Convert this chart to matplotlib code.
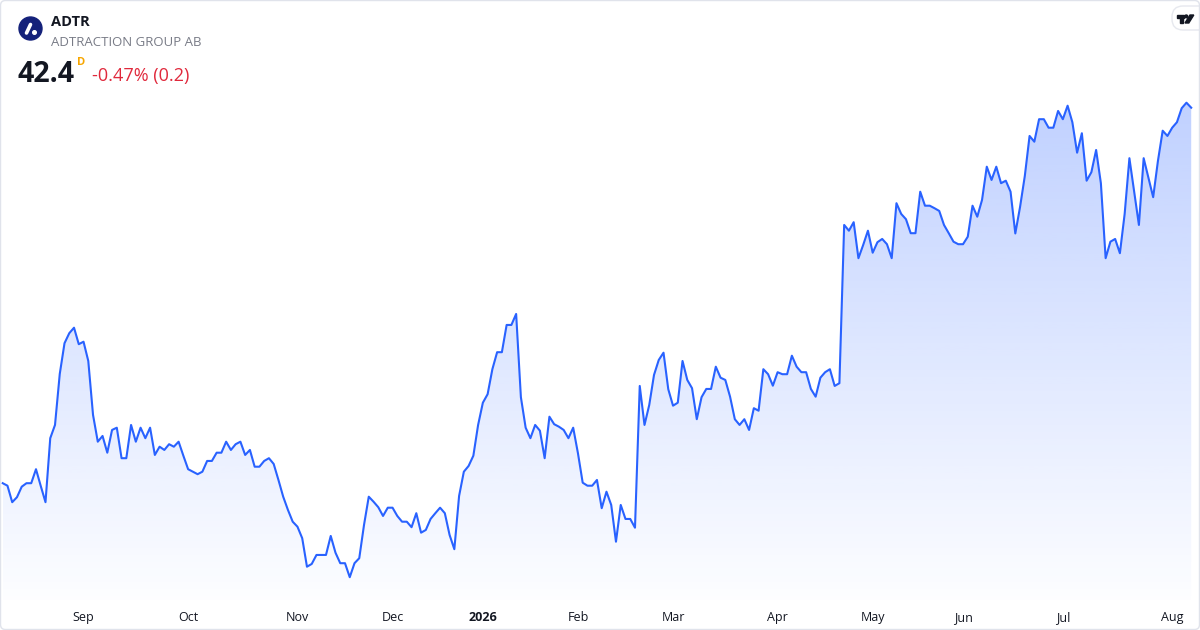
import numpy as np
import pandas as pd
import matplotlib
matplotlib.use("Agg")
import matplotlib.pyplot as plt
from matplotlib.patches import FancyBboxPatch, Circle, Polygon

plt.rcParams["font.family"] = ["Open Sans", "DejaVu Sans"]

# daily closes, ADTR (Stockholm), Aug 2025 - Aug 2026
prices = [
    27.38, 27.28, 26.62, 26.82, 27.24, 27.38, 27.38, 27.94, 27.27, 26.62,
    29.18, 29.71, 31.75, 32.98, 33.38, 33.60, 32.94, 33.04, 32.27, 30.11,
    29.04, 29.27, 28.60, 29.51, 29.60, 28.38, 28.38, 29.71, 29.04, 29.60,
    29.18, 29.60, 28.51, 28.84, 28.71, 28.94, 28.84, 29.04, 28.48, 27.94,
    27.84, 27.74, 27.84, 28.27, 28.27, 28.60, 28.60, 29.04, 28.71, 28.94,
    29.04, 28.51, 28.71, 28.04, 28.04, 28.27, 28.38, 28.15, 27.51, 26.84,
    26.31, 25.84, 25.64, 25.18, 24.04, 24.15, 24.51, 24.51, 24.51, 25.27,
    24.60, 24.18, 24.18, 23.62, 24.18, 24.38, 25.71, 26.84, 26.64, 26.42,
    26.07, 26.40, 26.40, 26.07, 25.84, 25.84, 25.62, 26.18, 25.40, 25.51,
    25.95, 26.18, 26.40, 26.18, 25.31, 24.74, 26.87, 27.84, 28.07, 28.48,
    29.71, 30.60, 30.94, 31.94, 32.62, 32.62, 33.71, 33.71, 34.15, 30.82,
    29.60, 29.18, 29.71, 29.48, 28.38, 30.04, 29.74, 29.64, 29.51, 29.18,
    29.60, 28.58, 27.40, 27.28, 27.28, 27.51, 26.38, 27.04, 26.51, 25.04,
    26.51, 25.95, 25.95, 25.60, 31.27, 29.71, 30.51, 31.71, 32.31, 32.60,
    31.14, 30.48, 30.60, 32.27, 31.51, 31.18, 29.94, 30.82, 31.15, 31.15,
    32.04, 31.60, 31.51, 30.84, 29.94, 29.71, 29.94, 29.51, 30.38, 30.28,
    31.94, 31.74, 31.28, 31.82, 31.74, 31.74, 32.48, 32.04, 31.82, 31.82,
    31.15, 30.84, 31.60, 31.82, 31.94, 31.27, 31.38, 37.71, 37.48, 37.82,
    36.38, 36.91, 37.48, 36.60, 37.02, 37.15, 36.94, 36.38, 38.58, 38.15,
    37.94, 37.38, 37.38, 39.04, 38.48, 38.48, 38.38, 38.27, 37.71, 37.38,
    37.04, 36.94, 36.94, 37.24, 38.48, 38.04, 38.71, 40.04, 39.51, 40.04,
    39.38, 39.48, 39.04, 37.37, 38.43, 39.67, 41.27, 41.04, 41.94, 41.94,
    41.60, 41.60, 42.27, 41.94, 42.48, 41.82, 40.60, 41.38, 39.48, 39.82,
    40.71, 39.38, 36.38, 37.04, 37.15, 36.58, 38.15, 40.38, 39.04, 37.71,
    40.38, 39.60, 38.82, 40.27, 41.48, 41.27, 41.60, 41.82, 42.38, 42.60,
    42.40,
]

# Nasdaq Stockholm closing days in the window
holidays = ["2025-12-24", "2025-12-25", "2025-12-26", "2025-12-31",
            "2026-01-01", "2026-01-06", "2026-04-03", "2026-04-06",
            "2026-05-01", "2026-05-14", "2026-06-19"]
dates = pd.bdate_range("2025-08-07", periods=len(prices), freq="C", holidays=holidays)

ticker = "ADTR"
company = "ADTRACTION GROUP AB"
last_price = "42.4"
change_text = "-0.47% (0.2)"

s = pd.Series(prices, index=dates)
idx = np.arange(len(s))

# first trading day of each month -> tick
month_start = np.r_[False, dates.month[1:] != dates.month[:-1]]
tick_pos = idx[month_start]
tick_lab = ["2026" if d.month == 1 else d.strftime("%b") for d in dates[month_start]]

W, H = 1200, 630
fig = plt.figure(figsize=(12, 6.3), dpi=100)
fig.patch.set_facecolor("white")

ax = fig.add_axes([0, 30 / H, 1, 600 / H])
ax.set_xlim(-0.57, 251.85)
ax.set_ylim(22.708, 46.708)

line_col = "#2962FF"
ax.plot(idx, s.values, color=line_col, lw=1.5, solid_joinstyle="round", zorder=3)

# gradient under the line
fill = ax.fill_between(idx, s.values, ax.get_ylim()[0], color="none", lw=0)
grad = np.zeros((256, 1, 4))
grad[:, 0, 0] = 41 / 255
grad[:, 0, 1] = 98 / 255
grad[:, 0, 2] = 1.0
grad[:, 0, 3] = np.linspace(0.30, 0.01, 256)
top = max(prices)
im = ax.imshow(grad, aspect="auto", origin="upper",
               extent=[idx[0], idx[-1], ax.get_ylim()[0], top + 0.4], zorder=2)
im.set_clip_path(fill.get_paths()[0], transform=ax.transData)

ax.set_xticks(tick_pos)
ax.set_xticklabels(tick_lab)
for lab in ax.get_xticklabels():
    lab.set_fontsize(9)
    lab.set_color("#131722")
    if lab.get_text() == "2026":
        lab.set_fontweight("bold")
ax.tick_params(axis="x", length=0, pad=8)
ax.set_yticks([])
for sp in ax.spines.values():
    sp.set_visible(False)
ax.patch.set_alpha(0)

# overlay in pixel units for the header bits
ov = fig.add_axes([0, 0, 1, 1], zorder=5)
ov.set_xlim(0, W)
ov.set_ylim(H, 0)
ov.axis("off")
ov.patch.set_alpha(0)

ov.add_patch(Circle((30.5, 28.5), 11.5, color="#14217a"))
ov.plot([26.5, 30.5], [33, 24.5], color="white", lw=2.6, solid_capstyle="round")
ov.add_patch(Circle((34.5, 32.5), 1.8, color="white"))

ov.text(51, 26, ticker, fontsize=10.5, fontweight="bold", color="#131722")
ov.text(51, 46, company, fontsize=9.5, color="#787b86")
ov.text(17, 82, last_price, fontsize=20.5, fontweight="bold", color="#131722")
ov.text(77.5, 65, "D", fontsize=8, fontweight="bold", color="#f7a600")
ov.text(92, 81, change_text, fontsize=13, color="#e0293c")

# TradingView badge top right
ov.add_patch(FancyBboxPatch((1172, 6), 40, 24, boxstyle="round,pad=0,rounding_size=11",
                            fc="white", ec="#e6e8ee", lw=1))
ov.add_patch(Polygon([(1176.5, 15), (1184, 15), (1184, 17.8), (1182.5, 17.8),
                      (1182.5, 23), (1180, 23), (1180, 17.8), (1176.5, 17.8)],
                     closed=True, color="#131722"))
ov.add_patch(Circle((1186.3, 16.4), 1.4, color="#131722"))
ov.add_patch(Polygon([(1190, 15), (1193.8, 15), (1188.8, 23), (1185, 23)],
                     closed=True, color="#131722"))

# outer frame
ov.add_patch(FancyBboxPatch((0.5, 0.5), W - 1, H - 1, boxstyle="round,pad=0,rounding_size=5",
                            fc="none", ec="#e0e3eb", lw=1))

fig.savefig("out.png", dpi=100)
